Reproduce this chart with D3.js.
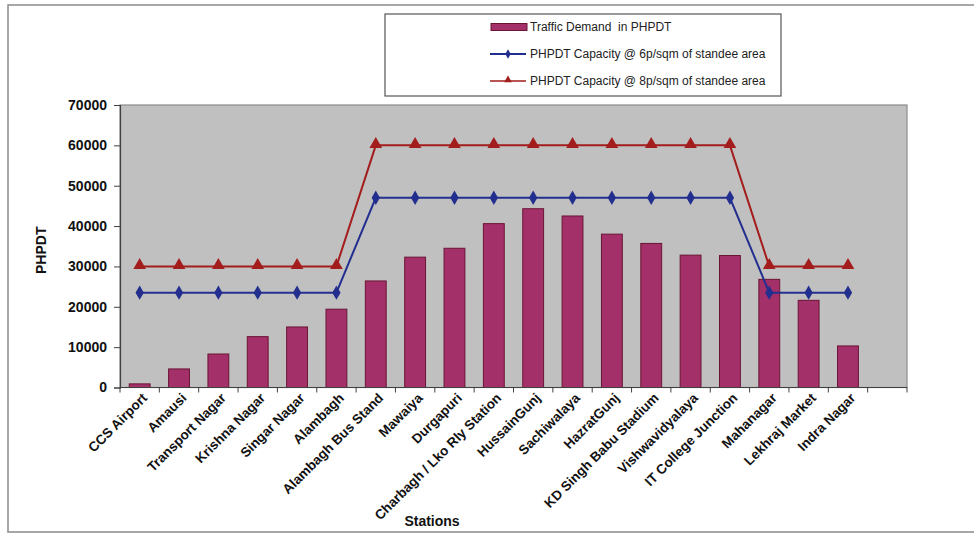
<!DOCTYPE html>
<html><head><meta charset="utf-8">
<script src="https://cdn.jsdelivr.net/npm/d3@7"></script>
<style>body{margin:0;background:#fff;}svg{display:block;font-family:Arial,"Liberation Sans",sans-serif;}</style>
</head><body>
<svg id="chart" width="974" height="537"></svg>
<script>
const stations = ["CCS Airport","Amausi","Transport Nagar","Krishna Nagar","Singar Nagar","Alambagh","Alambagh Bus Stand","Mawaiya","Durgapuri","Charbagh / Lko Rly Station","HussainGunj","Sachiwalaya","HazratGunj","KD Singh Babu Stadium","Vishwavidyalaya","IT College Junction","Mahanagar","Lekhraj Market","Indra Nagar",""];
const demand = [900,4600,8300,12600,15000,19400,26400,32300,34500,40600,44300,42500,38000,35700,32800,32700,26800,21600,10300];
const cap6 = [23500,23500,23500,23500,23500,23500,47000,47000,47000,47000,47000,47000,47000,47000,47000,47000,23500,23500,23500];
const cap8 = [30000,30000,30000,30000,30000,30000,60000,60000,60000,60000,60000,60000,60000,60000,60000,60000,30000,30000,30000];
const yTicks = [0,10000,20000,30000,40000,50000,60000,70000];
const seriesNames = ["Traffic Demand  in PHPDT","PHPDT Capacity @ 6p/sqm of standee area","PHPDT Capacity @ 8p/sqm of standee area"];

const svg = d3.select("#chart");
const P = {l:120, r:907, t:105, b:387.5};
const x = d3.scaleBand().domain(stations.map((d,i)=>i)).range([P.l,P.r]).padding(0);
const y = d3.scaleLinear().domain([0,70000]).range([P.b,P.t]);
const barColor="#a4306a", barStroke="#6a1434", blue="#232f8e", red="#a31d1d";

// outer frame
svg.append("rect").attr("x",8).attr("y",5).attr("width",990).attr("height",527)
  .attr("fill","none").attr("stroke","#8a8a8a").attr("stroke-width",1.5);

// plot area
svg.append("rect").attr("x",P.l).attr("y",P.t).attr("width",P.r-P.l).attr("height",P.b-P.t)
  .attr("fill","#c0c0c0").attr("stroke","#8c8c8c").attr("stroke-width",1.2);

// bars
const bw = x.bandwidth();
svg.append("g").selectAll("rect").data(demand).join("rect")
  .attr("x",(d,i)=>x(i)+bw*0.235).attr("width",bw*0.53)
  .attr("y",d=>y(d)).attr("height",d=>y(0)-y(d))
  .attr("fill",barColor).attr("stroke",barStroke).attr("stroke-width",1);

// lines
const cx = i => x(i)+bw/2;
const line = d3.line().x((d,i)=>cx(i)).y(d=>y(d));
svg.append("path").datum(cap8).attr("d",line).attr("fill","none").attr("stroke",red).attr("stroke-width",2);
svg.append("path").datum(cap6).attr("d",line).attr("fill","none").attr("stroke",blue).attr("stroke-width",2);
const tri = d3.symbol().type(d3.symbolTriangle).size(70);
const dia = d3.symbol().type(d3.symbolDiamond).size(60);
svg.append("g").selectAll("path").data(cap8).join("path")
  .attr("transform",(d,i)=>`translate(${cx(i)},${y(d)-1})`).attr("d",tri).attr("fill",red);
svg.append("g").selectAll("path").data(cap6).join("path")
  .attr("transform",(d,i)=>`translate(${cx(i)},${y(d)})`).attr("d",dia).attr("fill",blue);

// y axis
const yAxis = svg.append("g").attr("transform",`translate(${P.l},0)`)
  .call(d3.axisLeft(y).tickValues(yTicks).tickSize(6).tickPadding(7).tickFormat(d3.format("d")));
yAxis.select(".domain").attr("stroke","#404040").attr("stroke-width",1.2);
yAxis.selectAll(".tick line").attr("stroke","#404040");
yAxis.selectAll("text").attr("font-size",14).attr("font-weight","bold").attr("fill","#111")
  .attr("font-family","Arial, 'Liberation Sans', sans-serif");

// x axis baseline + ticks at band boundaries
svg.append("line").attr("x1",P.l).attr("x2",P.r).attr("y1",P.b).attr("y2",P.b).attr("stroke","#404040").attr("stroke-width",1.2);
const bounds = stations.map((d,i)=>x(i)).concat([x(stations.length-1)+bw]);
svg.append("g").selectAll("line").data(bounds).join("line")
  .attr("x1",d=>d).attr("x2",d=>d).attr("y1",P.b).attr("y2",P.b+5).attr("stroke","#404040");
svg.append("g").selectAll("text").data(stations).join("text")
  .attr("transform",(d,i)=>`translate(${cx(i)+5},${P.b+8}) rotate(-45)`)
  .attr("text-anchor","end").attr("dy","0.35em")
  .attr("font-size",13.5).attr("font-weight","bold").attr("fill","#111").text(d=>d);

// axis titles
svg.append("text").attr("transform",`translate(46,${(P.t+P.b)/2+4}) rotate(-90)`)
  .attr("text-anchor","middle").attr("font-size",14).attr("font-weight","bold").attr("fill","#111").text("PHPDT");
svg.append("text").attr("x",432).attr("y",526).attr("text-anchor","middle")
  .attr("font-size",14).attr("font-weight","bold").attr("fill","#111").text("Stations");

// legend
const lg = svg.append("g");
lg.append("rect").attr("x",385).attr("y",14).attr("width",396).attr("height",82)
  .attr("fill","#fff").attr("stroke","#555").attr("stroke-width",1.2);
const ly = [27,54,81];
lg.append("rect").attr("x",491).attr("y",ly[0]-3.5).attr("width",36).attr("height",7)
  .attr("fill",barColor).attr("stroke",barStroke);
lg.append("line").attr("x1",490).attr("x2",526).attr("y1",ly[1]).attr("y2",ly[1]).attr("stroke",blue).attr("stroke-width",2);
lg.append("path").attr("transform",`translate(508,${ly[1]})`).attr("d",d3.symbol().type(d3.symbolDiamond).size(25)).attr("fill",blue);
lg.append("line").attr("x1",490).attr("x2",526).attr("y1",ly[2]).attr("y2",ly[2]).attr("stroke",red).attr("stroke-width",1.5);
lg.append("path").attr("transform",`translate(508,${ly[2]-1})`).attr("d",d3.symbol().type(d3.symbolTriangle).size(25)).attr("fill",red);
lg.selectAll("text.lt").data(seriesNames).join("text").attr("class","lt")
  .attr("x",530).attr("y",(d,i)=>ly[i]).attr("dy","0.35em")
  .attr("font-size",12).attr("fill","#222").style("white-space","pre").text(d=>d);
</script>
</body></html>
